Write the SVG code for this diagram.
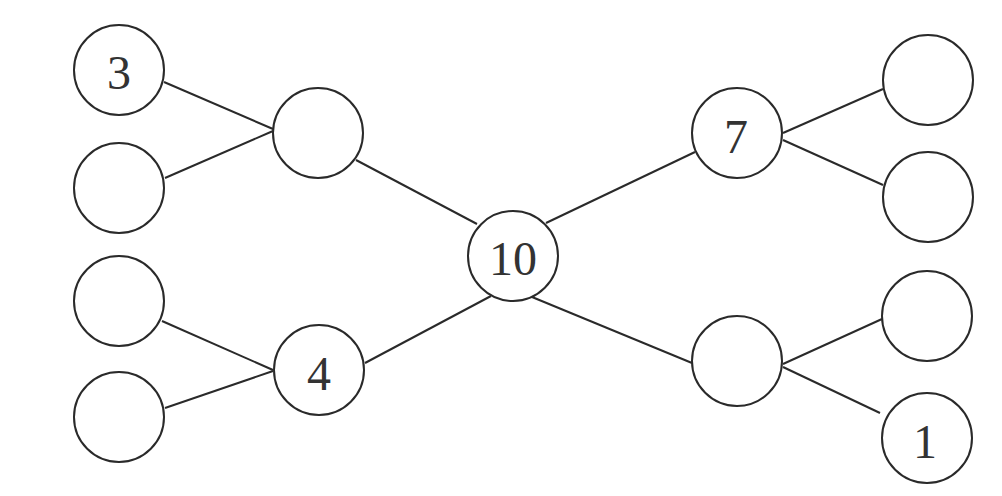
<svg xmlns="http://www.w3.org/2000/svg" width="1002" height="496" viewBox="0 0 1002 496">
<style>
.n{fill:#fff;stroke:#2a2a2a;stroke-width:2}
.e{stroke:#2a2a2a;stroke-width:2;fill:none}
.t{font-family:"Liberation Serif",serif;font-size:48px;fill:#333;text-anchor:middle}
</style>
<rect width="1002" height="496" fill="#fff"/>
<g id="connectors">
<line class="e" x1="164" y1="82" x2="273" y2="129"/>
<line class="e" x1="165" y1="178" x2="273" y2="131"/>
<line class="e" x1="162" y1="321" x2="273" y2="370"/>
<line class="e" x1="165" y1="408" x2="273" y2="371"/>
<line class="e" x1="356" y1="160" x2="477" y2="224"/>
<line class="e" x1="365" y1="363" x2="491" y2="296"/>
<line class="e" x1="546" y1="223" x2="695" y2="152"/>
<line class="e" x1="532" y1="297" x2="692" y2="363"/>
<line class="e" x1="783" y1="133" x2="883" y2="89"/>
<line class="e" x1="783" y1="140" x2="883" y2="185"/>
<line class="e" x1="783" y1="364" x2="882" y2="319"/>
<line class="e" x1="783" y1="367" x2="880" y2="413"/>
</g>
<g id="n3"><circle class="n" cx="119" cy="70" r="45"/><text class="t" x="119" y="89">3</text></g>
<g id="nL2"><circle class="n" cx="119" cy="188" r="45"/></g>
<g id="nL3"><circle class="n" cx="119" cy="301" r="45"/></g>
<g id="nL4"><circle class="n" cx="119" cy="417" r="45"/></g>
<g id="nM1"><circle class="n" cx="318" cy="133" r="45"/></g>
<g id="n4"><circle class="n" cx="319" cy="370" r="45"/><text class="t" x="319" y="390">4</text></g>
<g id="n10"><circle class="n" cx="513" cy="256" r="45"/><text class="t" x="513" y="275">10</text></g>
<g id="n7"><circle class="n" cx="737" cy="133" r="45"/><text class="t" x="736" y="153">7</text></g>
<g id="nM4"><circle class="n" cx="737" cy="361" r="45"/></g>
<g id="nR1"><circle class="n" cx="928" cy="80" r="45"/></g>
<g id="nR2"><circle class="n" cx="928" cy="197" r="45"/></g>
<g id="nR3"><circle class="n" cx="927" cy="316" r="45"/></g>
<g id="n1"><circle class="n" cx="927" cy="438" r="45"/><text class="t" x="925" y="458">1</text></g>
</svg>
